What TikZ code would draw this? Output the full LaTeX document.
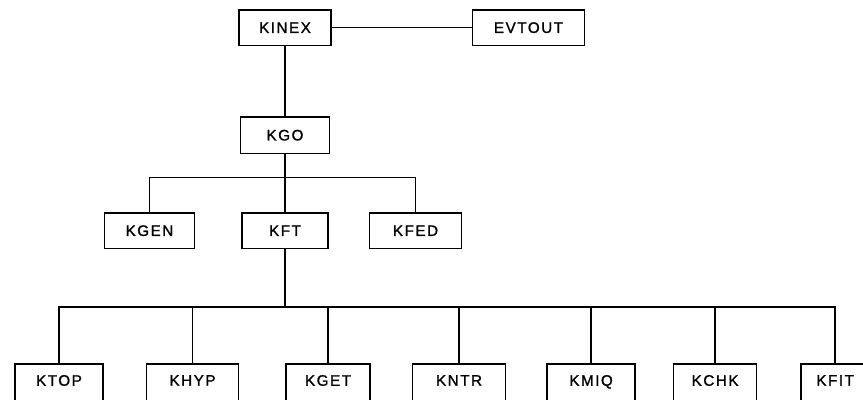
\documentclass[tikz,border=0pt]{standalone}
\usepackage{fontspec}
\setmainfont{Liberation Sans}[LetterSpace=10,FakeBold=1.2]
\usepackage{tikz}
\usetikzlibrary{positioning,calc}
\tikzset{prog node/.style={rectangle,draw,line width=1.3pt,
minimum height=1.06cm,inner sep=1pt,font=\fontsize{13}{15}\selectfont},
low node/.style={prog node,minimum height=1.2cm,text depth=0.2cm},
link/.style={line width=1.3pt}}

\begin{document}
\begin{tikzpicture}
\useasboundingbox (0,0) rectangle (25.89,-11.97);
% upper part
\node[prog node,minimum width=2.76cm] (kinex) at (8.55,-0.83) {KINEX};
\node[prog node,minimum width=3.36cm] (evtout) [right=4.2cm of kinex] {EVTOUT};
\node[prog node,minimum width=2.67cm,minimum height=1.1cm] (kgo) [below=2.1cm of kinex] {KGO};
\node[prog node,minimum width=2.58cm] (kft) [below=1.74cm of kgo] {KFT};
\node[prog node,minimum width=2.7cm] (kgen) [left=1.38cm of kft] {KGEN};
\node[prog node,minimum width=2.76cm] (kfed) [right=1.2cm of kft] {KFED};
% bottom row
\node[low node,minimum width=2.64cm,anchor=north] (ktop) at (1.77,-10.89) {KTOP};
\node[low node,minimum width=2.76cm] (khyp) [right=1.26cm of ktop] {KHYP};
\node[low node,minimum width=2.52cm] (kget) [right=1.38cm of khyp] {KGET};
\node[low node,minimum width=2.79cm] (kntr) [right=1.23cm of kget] {KNTR};
\node[low node,minimum width=2.64cm] (kmiq) [right=1.2cm of kntr] {KMIQ};
\node[low node,minimum width=2.49cm] (kchk) [right=1.11cm of kmiq] {KCHK};
\node[low node,minimum width=2.04cm] (kfit) [right=1.29cm of kchk] {KFIT};

\draw[link] (kinex) -- (evtout);
\draw[link] (kinex) -- (kgo);
\draw[link] (kgo.south) -- ++(0,-0.69) coordinate (bus1);
\draw[link] (kgen.north) |- (bus1) -| (kfed.north);
\draw[link] (bus1) -- (kft.north);
\draw[link] (kft.south) -- ++(0,-1.74) coordinate (bus2);
\draw[link] (ktop.north) |- (bus2) -| (kfit.north);
\foreach \n in {khyp,kget,kntr,kmiq,kchk}
  \draw[link] (\n.north) -- (\n.north |- bus2);
\end{tikzpicture}
\end{document}
